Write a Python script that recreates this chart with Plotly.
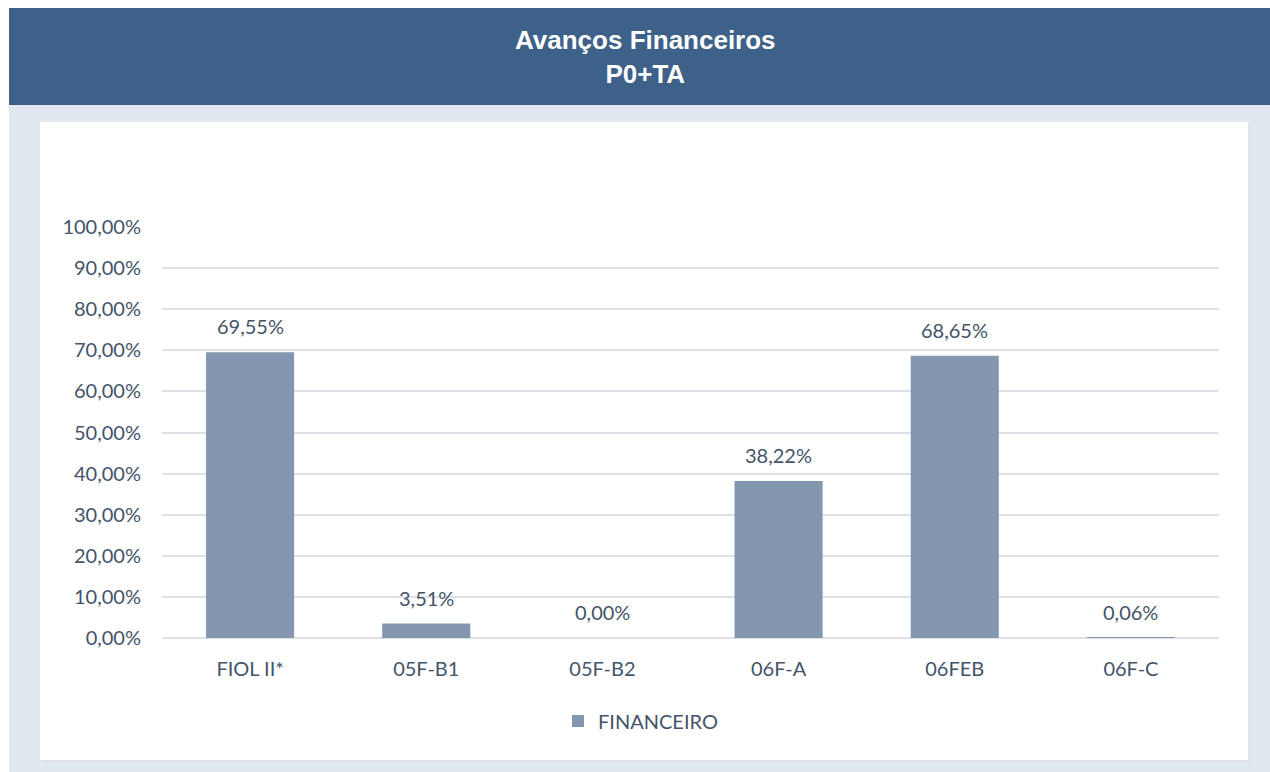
import plotly.graph_objects as go

categories = ["FIOL II*", "05F-B1", "05F-B2", "06F-A", "06FEB", "06F-C"]
financeiro = [69.55, 3.51, 0.00, 38.22, 68.65, 0.06]
series_name = "FINANCEIRO"
title_lines = ["Avanços Financeiros", "P0+TA"]
y_ticks = [0, 10, 20, 30, 40, 50, 60, 70, 80, 90, 100]

W, H = 1270, 772
TXT = "#44546A"
FONT = "Lato, 'Open Sans', sans-serif"

def pct(v):
    return f"{v:.2f}".replace(".", ",") + "%"

labels = [pct(v) for v in financeiro]
tick_text = [pct(v) for v in y_ticks]

fig = go.Figure()
fig.add_trace(go.Bar(
    x=categories, y=financeiro, name=series_name,
    marker=dict(color="#8497B0", line=dict(width=0)),
    width=0.5,
    showlegend=True,
))

def px_x(p):
    return p / W

def px_y(p):
    return 1 - p / H

shapes = [
    dict(type="rect", xref="paper", yref="paper", x0=px_x(9), x1=px_x(1270), y0=px_y(772), y1=px_y(105),
         fillcolor="#E2E8EF", line=dict(width=0), layer="below"),
    dict(type="rect", xref="paper", yref="paper", x0=px_x(9), x1=px_x(1270), y0=px_y(105), y1=px_y(8),
         fillcolor="#3E6189", line=dict(width=0), layer="below"),
    dict(type="rect", xref="paper", yref="paper", x0=px_x(42), x1=px_x(1251), y0=px_y(763), y1=px_y(124),
         fillcolor="#E0E3E7", line=dict(width=0), layer="below"),
    dict(type="rect", xref="paper", yref="paper", x0=px_x(40), x1=px_x(1248), y0=px_y(760), y1=px_y(122),
         fillcolor="#FFFFFF", line=dict(width=0), layer="below"),
]

annotations = [
    dict(text="<b>" + "<br>".join(title_lines) + "</b>", xref="paper", yref="paper",
         x=px_x(645), y=px_y(57), xanchor="center", yanchor="middle", showarrow=False,
         font=dict(family="Liberation Sans, Arial, sans-serif", size=26, color="#FFFFFF"),
         align="center"),
]
for c, v, t in zip(categories, financeiro, labels):
    annotations.append(dict(x=c, y=v, xref="x", yref="y", text=t, showarrow=False,
                            yanchor="middle", yshift=26,
                            font=dict(size=20, color=TXT, family=FONT)))

fig.update_layout(
    width=W, height=H,
    margin=dict(l=0, r=0, t=0, b=0, autoexpand=False),
    paper_bgcolor="#FFFFFF", plot_bgcolor="rgba(0,0,0,0)",
    shapes=shapes,
    annotations=annotations,
    font=dict(family=FONT, color=TXT),
    xaxis=dict(domain=[px_x(162), px_x(1219)], showgrid=False, zeroline=False, showline=False,
               ticks="outside", ticklen=13, tickcolor="rgba(0,0,0,0)",
               automargin=False, tickfont=dict(size=20, color=TXT, family=FONT)),
    yaxis=dict(domain=[px_y(638), px_y(227)], range=[0, 100], tickvals=y_ticks, ticktext=tick_text,
               automargin=False, showgrid=True, gridcolor="#DEE2E8", gridwidth=2,
               zeroline=True, zerolinecolor="#DEE2E8", zerolinewidth=2, ticks="outside",
               ticklen=16, tickcolor="rgba(0,0,0,0)",
               tickfont=dict(size=20, color=TXT, family=FONT)),
    legend=dict(orientation="h", x=px_x(558), xanchor="left", y=px_y(721), yanchor="middle",
                font=dict(size=20, color=TXT, family=FONT), bgcolor="rgba(0,0,0,0)",
                itemwidth=30),
)

fig.write_html("out.html", config={"displayModeBar": False},
               post_script="document.body.style.margin='0';")
